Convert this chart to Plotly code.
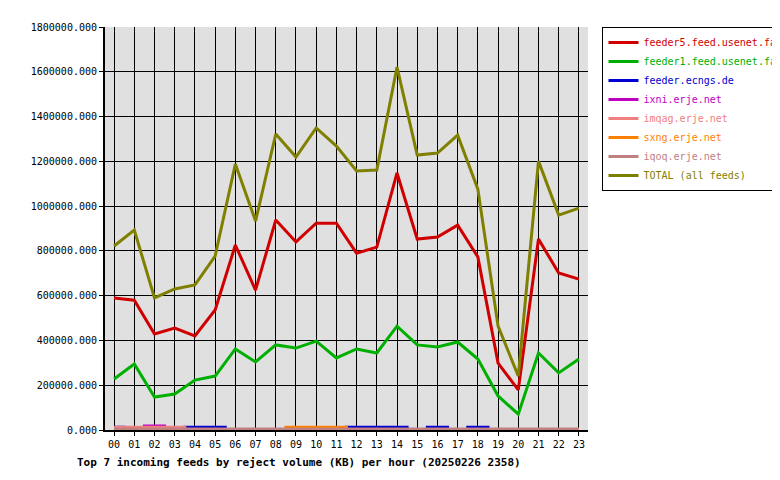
import plotly.graph_objects as go

hours = [f"{h:02d}" for h in range(24)]

feeder5 = [590000, 580000, 429000, 455000, 420000, 536000, 826000, 625000, 938000, 840000, 924000, 924000,
           790000, 817000, 1148000, 853000, 862000, 915000, 773000, 299000, 179000, 853000, 701000, 674000]
feeder1 = [228000, 295000, 147000, 161000, 223000, 241000, 362000, 304000, 380000, 366000, 397000, 322000,
           362000, 344000, 464000, 380000, 371000, 393000, 317000, 152000, 71000, 344000, 255000, 317000]
ecngs = [12000, 0, 0, 0, 12000, 12000, 0, 0, 0, 0, 0, 0,
         12000, 12000, 12000, 0, 12000, 0, 12000, 0, 0, 0, 0, 0]
ixni = [0, 0, 18000, 0, 0, 0, 0, 0, 0, 0, 0, 0,
        0, 0, 0, 0, 0, 0, 0, 0, 0, 0, 0, 0]
imqag = [12000, 12000, 12000, 12000, 0, 0, 0, 0, 0, 0, 0, 0,
         0, 0, 0, 0, 0, 0, 0, 0, 0, 0, 0, 0]
sxng = [0, 0, 0, 0, 0, 0, 0, 0, 0, 12000, 12000, 12000,
        0, 0, 0, 0, 0, 0, 0, 0, 0, 0, 0, 0]
iqoq = [5000] * 24
total = [822000, 893000, 590000, 630000, 648000, 777000, 1188000, 933000, 1322000, 1219000, 1349000, 1268000,
         1157000, 1161000, 1621000, 1228000, 1237000, 1317000, 1076000, 464000, 241000, 1201000, 960000, 991000]

series = [
    ("feeder5.feed.usenet.farm", feeder5, "#d00000", "linear"),
    ("feeder1.feed.usenet.farm", feeder1, "#00b000", "linear"),
    ("feeder.ecngs.de", ecngs, "#0000d0", "hvh"),
    ("ixni.erje.net", ixni, "#c000c0", "hvh"),
    ("imqag.erje.net", imqag, "#f08080", "hvh"),
    ("sxng.erje.net", sxng, "#ff8000", "hvh"),
    ("iqoq.erje.net", iqoq, "#c08080", "hvh"),
    ("TOTAL (all feeds)", total, "#808000", "linear"),
]

fig = go.Figure()
for name, vals, color, shape in series:
    fig.add_trace(go.Scatter(x=list(range(24)), y=vals, mode="lines",
                             name=f"<span style='color:{color}'>{name}</span>",
                             line=dict(color=color, width=3, shape=shape)))

font = "DejaVu Sans Mono"
fig.update_layout(
    width=780, height=480, paper_bgcolor="white", plot_bgcolor="#e0e0e0",
    margin=dict(l=97, r=200, t=19, b=58, autoexpand=False),
    font=dict(family=font, size=10, color="black"),
    showlegend=True,
    legend=dict(x=1.03, y=1.0, xanchor="left", yanchor="top", bordercolor="black", borderwidth=1,
                bgcolor="white", tracegroupgap=0, itemwidth=30, font=dict(family=font, size=10)),
    xaxis=dict(range=[-0.45, 23.45], tickvals=list(range(24)), ticktext=hours, automargin=False,
               showgrid=True, gridcolor="black", gridwidth=1, showline=True, linecolor="black",
               linewidth=2, ticks="outside", ticklen=4, tickcolor="black", zeroline=False),
    yaxis=dict(range=[0, 1800000], dtick=200000, tickformat=".3f", showgrid=True, gridcolor="black",
               gridwidth=1, showline=True, linecolor="black", linewidth=2, ticks="outside",
               ticklen=4, tickcolor="black", zeroline=False, automargin=False),
)
fig.add_annotation(text="<b>Top 7 incoming feeds by reject volume (KB) per hour (20250226 2358)</b>",
                   xref="paper", yref="paper", x=-0.063, y=-0.06, xanchor="left", yanchor="top",
                   showarrow=False, font=dict(family=font, size=11))
fig.write_html("out.html")
